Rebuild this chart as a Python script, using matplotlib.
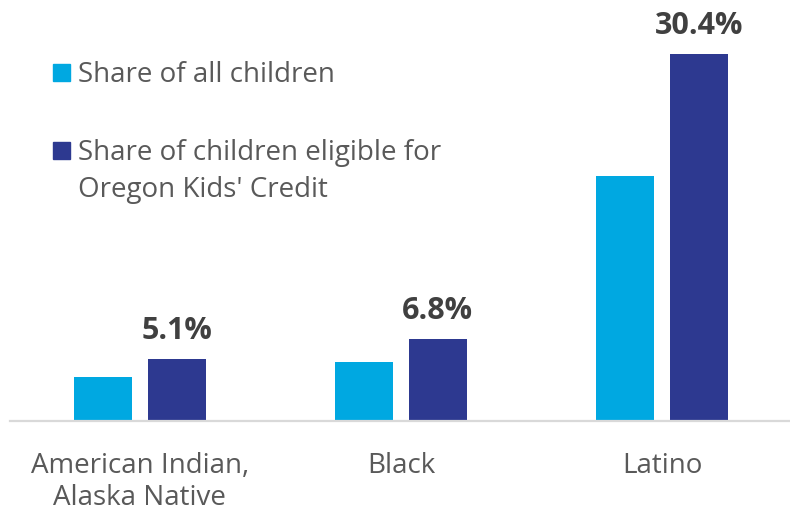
import matplotlib.pyplot as plt
import numpy as np
from matplotlib.patches import Rectangle

plt.rcParams["font.family"] = ["Open Sans", "DejaVu Sans"]

categories = ["American Indian,\nAlaska Native", "Black", "Latino"]
share_all = [3.65, 4.85, 20.3]
share_eligible = [5.1, 6.8, 30.4]
eligible_labels = ["5.1%", "6.8%", "30.4%"]
legend_lines = [["Share of all children"],
                ["Share of children eligible for", "Oregon Kids' Credit"]]

light_blue = "#00A8E1"
dark_blue = "#2D3990"
text_gray = "#595959"

fig = plt.figure(figsize=(7.9, 5.14), dpi=100)
ax = fig.add_axes([10 / 790, 93 / 514, 780 / 790, 421 / 514])

x = np.arange(len(categories))
width = 0.223
offset = (width + 0.06) / 2
ax.bar(x - offset, share_all, width, color=light_blue, zorder=2)
bars = ax.bar(x + offset, share_eligible, width, color=dark_blue, zorder=2)

for bar, label in zip(bars, eligible_labels):
    ax.annotate(label, (bar.get_x() + bar.get_width() / 2, bar.get_height()),
                xytext=(0, 14.5), textcoords="offset points",
                ha="center", va="baseline", fontsize=22, fontweight="bold", color="#404040")

ax.set_xlim(-0.497, 2.49)
ax.set_ylim(0, 34.9)
ax.set_xticks(x)
ax.set_xticklabels(categories, fontsize=20, color=text_gray, linespacing=1.2)
ax.tick_params(axis="x", length=0, pad=22)
ax.set_yticks([])
for side in ["top", "right", "left"]:
    ax.spines[side].set_visible(False)
ax.spines["bottom"].set_color("#d9d9d9")
ax.spines["bottom"].set_linewidth(1.6)

# legend drawn by hand: square + text lines (pixel positions from top)
sq_w, sq_h = 17 / 790, 17 / 514
square_centers = [72.7, 150.7]
first_baselines = [81.5, 160]
for lines, color, yc, yb in zip(legend_lines, [light_blue, dark_blue],
                                square_centers, first_baselines):
    fig.patches.append(Rectangle((53 / 790, (514 - yc) / 514 - sq_h / 2), sq_w, sq_h,
                                 transform=fig.transFigure, color=color))
    for j, line in enumerate(lines):
        fig.text(78 / 790, (514 - yb - 36.5 * j) / 514, line, fontsize=20,
                 color=text_gray, va="baseline", ha="left")

fig.savefig("out.png", dpi=100)
